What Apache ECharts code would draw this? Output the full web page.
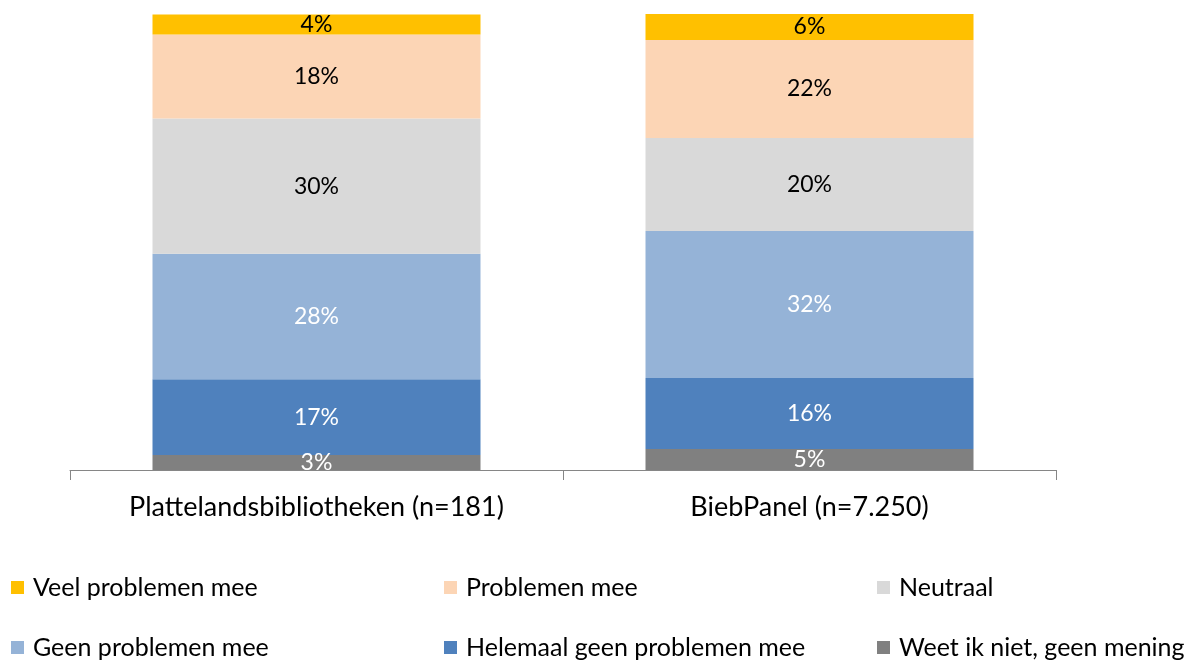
<!DOCTYPE html>
<html>
<head>
<meta charset="utf-8">
<script src="https://cdn.jsdelivr.net/npm/echarts@6/dist/echarts.min.js"></script>
<style>
  html, body { margin: 0; padding: 0; background: #fff; }
  #chart { width: 1186px; height: 660px; }
</style>
</head>
<body>
<div id="chart"></div>
<script>
// categorieën op de x-as
const categories = ['Plattelandsbibliotheken (n=181)', 'BiebPanel (n=7.250)']

// reeksen van onder naar boven (aandeel in %)
const weetNiet = [3.3, 4.6]
const helemaalGeen = [16.6, 15.6]
const geenProblemen = [27.5, 32.2]
const neutraal = [29.7, 20.4]
const problemen = [18.4, 21.5]
const veelProblemen = [4.4, 5.7]

const seriesNames = [
  'Weet ik niet, geen mening',
  'Helemaal geen problemen mee',
  'Geen problemen mee',
  'Neutraal',
  'Problemen mee',
  'Veel problemen mee'
]
const seriesData = [weetNiet, helemaalGeen, geenProblemen, neutraal, problemen, veelProblemen]
const colors = ['#808080', '#4F81BD', '#95B3D7', '#D9D9D9', '#FCD5B5', '#FFC000']
const labelColors = ['#fff', '#fff', '#fff', '#000', '#000', '#000']

const font = 'Lato, "Open Sans", sans-serif'

const chart = echarts.init(document.getElementById('chart'))

const series = seriesNames.map((name, i) => {
  return {
    name: name,
    type: 'bar',
    stack: 'totaal',
    barWidth: 328,
    data: seriesData[i],
    itemStyle: { color: colors[i] },
    label: {
      show: true,
      position: 'inside',
      color: labelColors[i],
      fontFamily: font,
      fontSize: 23,
      formatter: (p) => Math.round(p.value) + '%'
    }
  }
})

// legenda: twee rijen van drie, elk item op een vaste plek
const legendOrder = [
  ['Veel problemen mee', 11, 575],
  ['Problemen mee', 444, 575],
  ['Neutraal', 877, 575],
  ['Geen problemen mee', 11, 635],
  ['Helemaal geen problemen mee', 444, 635],
  ['Weet ik niet, geen mening', 877, 635]
]
const legends = legendOrder.map((item) => {
  return {
    data: [item[0]],
    left: item[1],
    top: item[2],
    icon: 'rect',
    itemWidth: 13,
    itemHeight: 13,
    itemGap: 4,
    padding: 0,
    selectedMode: false,
    textStyle: { fontFamily: font, fontSize: 25, color: '#000', padding: [0, 0, 0, 4] }
  }
})

const option = {
  animation: false,
  grid: { left: 70, right: 130, top: 14, bottom: 190 },
  legend: legends,
  xAxis: {
    type: 'category',
    data: categories,
    axisLine: { lineStyle: { color: '#868686', width: 1 } },
    axisTick: { show: true, length: 10, lineStyle: { color: '#868686' } },
    axisLabel: { fontFamily: font, fontSize: 27, color: '#000', margin: 24 }
  },
  yAxis: {
    type: 'value',
    min: 0,
    max: 100,
    show: false
  },
  series: series
}

chart.setOption(option)
</script>
</body>
</html>
